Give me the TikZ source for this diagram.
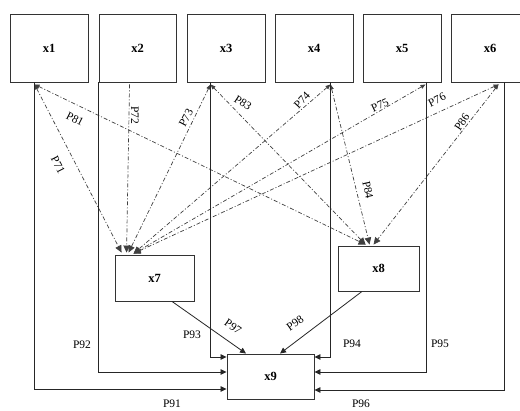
\documentclass[tikz,border=0pt]{standalone}
\usepackage{fontspec}
\setmainfont{Liberation Serif}
\usetikzlibrary{arrows.meta}
\begin{document}
\begin{tikzpicture}[x=1pt,y=-1pt,
  box/.style={draw=black!80, line width=0.9pt, inner sep=0pt, font=\bfseries\fontsize{12.5}{14}\selectfont},
  lab/.style={font=\fontsize{11.5}{13}\selectfont, inner sep=0pt},
  tip/.style={-{Triangle[length=6pt,width=5.5pt]}},
  sl/.style={draw=black!85, line width=0.8pt, tip},
  dd/.style={draw=black!75, line width=0.7pt, dash pattern=on 4pt off 2pt on 1pt off 2pt,
             {Triangle[length=5pt,width=4pt]}-{Triangle[length=7pt,width=6.5pt]}},
  ddone/.style={draw=black!75, line width=0.7pt, dash pattern=on 4pt off 2pt on 1pt off 2pt,
             -{Triangle[length=7pt,width=6.5pt]}}
]
\useasboundingbox (0,0) rectangle (520,411);
\clip (0,0) rectangle (520,411);
\fill[white] (0,0) rectangle (520,411);

% top boxes
\node[box, minimum width=78pt, minimum height=68pt] (x1) at (49,48) {x1};
\node[box, minimum width=77pt, minimum height=68pt] (x2) at (137.5,48) {x2};
\node[box, minimum width=78pt, minimum height=68pt] (x3) at (226,48) {x3};
\node[box, minimum width=78pt, minimum height=68pt] (x4) at (314,48) {x4};
\node[box, minimum width=78pt, minimum height=68pt] (x5) at (402,48) {x5};
\node[box, minimum width=78pt, minimum height=68pt] (x6) at (490,48) {x6};

% lower boxes
\node[box, minimum width=79pt, minimum height=46pt] (x7) at (154.5,278) {x7};
\node[box, minimum width=81pt, minimum height=45pt] (x8) at (378.5,268.5) {x8};
\node[box, minimum width=87pt, minimum height=45pt] (x9) at (270.5,376.5) {x9};

% attachment points under top boxes
\coordinate (t1) at ([xshift=25pt,yshift=-2pt]x1.south west);
\coordinate (t2) at ([xshift=31pt,yshift=-2pt]x2.south west);
\coordinate (t3) at ([xshift=24pt,yshift=-2pt]x3.south west);
\coordinate (t4) at ([xshift=56pt,yshift=-2pt]x4.south west);
\coordinate (t5) at ([xshift=63pt,yshift=-2pt]x5.south west);
\coordinate (t6) at ([xshift=48pt,yshift=-2pt]x6.south west);

% end points on x7 and x8
\coordinate (e7a) at ([xshift=7pt,yshift=2pt]x7.north west);
\coordinate (e7b) at ([xshift=12pt,yshift=2pt]x7.north west);
\coordinate (e7c) at ([xshift=14pt,yshift=2pt]x7.north west);
\coordinate (e7d) at ([xshift=19pt,yshift=1pt]x7.north west);
\coordinate (e8a) at ([xshift=28pt,yshift=1pt]x8.north west);
\coordinate (e8b) at ([xshift=32pt,yshift=1pt]x8.north west);
\coordinate (e8c) at ([xshift=36pt,yshift=1pt]x8.north west);

% dash-dot paths
\draw[dd] (t1) -- (e7a);
\draw[dd] (t1) -- (e8a);
\draw[ddone] (t2) -- (e7b);
\draw[dd] (t3) -- (e7c);
\draw[dd] (t3) -- (e8a);
\draw[dd] (t4) -- (e7d);
\draw[dd] (t4) -- (e8b);
\draw[dd] (t5) -- (e7d);
\draw[dd] (t6) -- (e7d);
\draw[dd] (t6) -- (e8c);

% solid paths to x9
\draw[sl] ([xshift=25pt]x1.south west) |- ([yshift=-12.5pt]x9.west);
\draw[sl] (x2.south west) |- ([yshift=4.5pt]x9.west);
\draw[sl] ([xshift=24pt]x3.south west) |- ([yshift=19.5pt]x9.west);
\draw[sl] ([xshift=56pt]x4.south west) |- ([yshift=19.5pt]x9.east);
\draw[sl] ([xshift=64pt]x5.south west) |- ([yshift=4.5pt]x9.east);
\draw[sl] ([xshift=54pt]x6.south west) |- ([yshift=-13.5pt]x9.east);
\draw[sl] ([xshift=17.5pt]x7.south) -- ([xshift=-24.5pt]x9.north);
\draw[sl] ([xshift=-16.5pt]x8.south) -- ([xshift=9.5pt]x9.north);

% labels
\node[lab, rotate=-27] (lP81) at (75,119) {P81};
\node[lab, rotate=-63] (lP71) at (58,165) {P71};
\node[lab, rotate=-90] (lP72) at (135,115) {P72};
\node[lab, rotate=62] (lP73) at (186,118) {P73};
\node[lab, rotate=-33] (lP83) at (243,103) {P83};
\node[lab, rotate=47] (lP74) at (302,100) {P74};
\node[lab, rotate=25] (lP75) at (380,105) {P75};
\node[lab, rotate=27] (lP76) at (437,100) {P76};
\node[lab, rotate=56] (lP86) at (462,122) {P86};
\node[lab, rotate=-78] (lP84) at (368,190) {P84};
\node[lab] (lP91) at (172,404) {P91};
\node[lab] (lP92) at (82,345) {P92};
\node[lab] (lP93) at (192,335) {P93};
\node[lab, rotate=-35] (lP97) at (233,327) {P97};
\node[lab, rotate=35] (lP98) at (295,323) {P98};
\node[lab] (lP94) at (352,344) {P94};
\node[lab] (lP95) at (440,344) {P95};
\node[lab] (lP96) at (361,404) {P96};
\end{tikzpicture}
\end{document}
